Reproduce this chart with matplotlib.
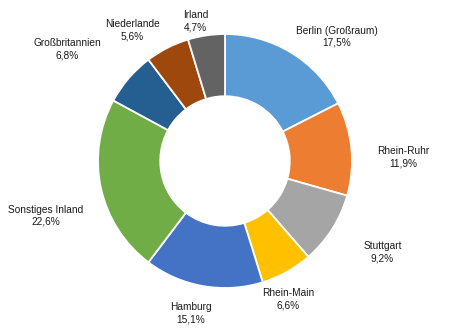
import matplotlib
matplotlib.use("Agg")
import matplotlib.pyplot as plt

categories = ["Berlin (Großraum)", "Rhein-Ruhr", "Stuttgart", "Rhein-Main", "Hamburg",
              "Sonstiges Inland", "Großbritannien", "Niederlande", "Irland"]
shares = [17.5, 11.9, 9.2, 6.6, 15.1, 22.6, 6.8, 5.6, 4.7]
colors = ["#5B9BD5", "#ED7D31", "#A5A5A5", "#FFC000", "#4472C4",
          "#70AD47", "#255E91", "#9E480E", "#636363"]

# label anchor points, in units of the outer radius relative to the ring centre
label_pos = [(0.88, 0.98), (1.40, 0.03), (1.24, -0.72), (0.50, -1.09), (-0.27, -1.20),
             (-1.41, -0.43), (-1.24, 0.88), (-0.73, 1.03), (-0.23, 1.10)]

W, H, DPI = 450, 331, 100
R = 127.0            # outer radius in pixels
cx, cy = 225.0, 161.0  # ring centre in pixels (y from top)

fig = plt.figure(figsize=(W / DPI, H / DPI), dpi=DPI)
ax = fig.add_axes([0, 0, 1, 1])
ax.axis("off")

ax.pie(shares, colors=colors, startangle=90, counterclock=False, radius=1.0,
       wedgeprops=dict(width=0.49, edgecolor="white", linewidth=1.3))
ax.set_xlim(-cx / R, (W - cx) / R)
ax.set_ylim(-(H - cy) / R, cy / R)
ax.set_aspect("auto")

for name, val, (x, y) in zip(categories, shares, label_pos):
    txt = f"{name}\n{val:.1f}%".replace(".", ",")
    ax.text(x, y, txt, ha="center", va="center", fontsize=7.3,
            family="Liberation Sans", color="#1a1a1a", linespacing=1.25)

fig.savefig("out.png", dpi=DPI)
